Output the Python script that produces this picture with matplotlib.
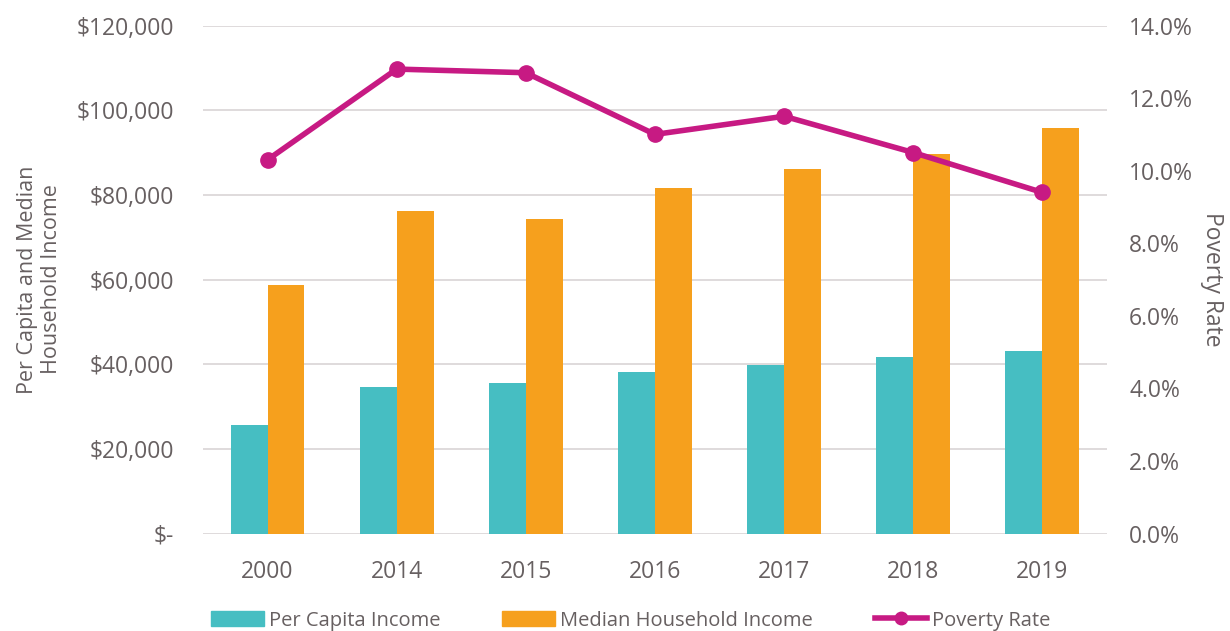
import numpy as np
import matplotlib.pyplot as plt
from matplotlib.ticker import FuncFormatter
from matplotlib.lines import Line2D
from matplotlib.patches import Patch

plt.rcParams['font.family'] = ['Open Sans', 'DejaVu Sans']

years = ["2000", "2014", "2015", "2016", "2017", "2018", "2019"]
per_capita = [25600, 34700, 35500, 38100, 39900, 41600, 43000]
median_household = [58700, 76100, 74300, 81700, 86100, 89600, 95800]
poverty_rate = [10.3, 12.8, 12.7, 11.0, 11.5, 10.5, 9.4]

teal = "#46BEC2"
orange = "#F6A01D"
magenta = "#C71A83"
text_col = "#676061"
grid_col = "#DCD8D9"

fig = plt.figure(figsize=(12.3, 6.31), dpi=100)
ax = fig.add_axes([0.165, 0.1545, 0.735, 0.805])
ax2 = ax.twinx()

x = np.arange(len(years))
w = 0.286
ax.bar(x - w / 2, per_capita, w, color=teal, zorder=2)
ax.bar(x + w / 2, median_household, w, color=orange, zorder=2)
ax2.plot(x, poverty_rate, color=magenta, lw=4, marker="o", ms=11, zorder=3)

ax.set_xlim(-0.5, len(years) - 0.5)
ax.set_ylim(0, 120000)
ax.set_yticks(range(0, 120001, 20000))
ax.yaxis.set_major_formatter(FuncFormatter(lambda v, p: "$-" if v == 0 else f"${v:,.0f}"))
ax2.set_ylim(0, 14)
ax2.set_yticks(range(0, 15, 2))
ax2.yaxis.set_major_formatter(FuncFormatter(lambda v, p: f"{v:.1f}%"))

ax.set_xticks(x)
ax.set_xticklabels(years)
ax.grid(axis="y", color=grid_col, lw=1.3, zorder=0)
ax.set_axisbelow(True)

for a in (ax, ax2):
    for s in a.spines.values():
        s.set_visible(False)
    a.tick_params(length=0, labelsize=16.5, colors=text_col)
ax.tick_params(axis="y", pad=21)
ax.tick_params(axis="x", pad=19)
ax2.tick_params(axis="y", pad=16)

ax.set_ylabel("Per Capita and Median\nHousehold Income", fontsize=15.5, color=text_col, labelpad=10)
ax2.set_ylabel("Poverty Rate", fontsize=16.5, color=text_col, rotation=270, labelpad=22)

handles = [
    Patch(color=teal, label="Per Capita Income"),
    Patch(color=orange, label="Median Household Income"),
    Line2D([0], [0], color=magenta, lw=4, marker="o", ms=9, label="Poverty Rate"),
]
leg = fig.legend(handles=handles, loc="lower center", bbox_to_anchor=(0.513, -0.028), ncol=3,
                 frameon=False, fontsize=14.5, handlelength=2.6, handletextpad=0.25,
                 columnspacing=3.1, handleheight=0.75)
for t in leg.get_texts():
    t.set_color(text_col)

fig.savefig("out.png", dpi=100)
